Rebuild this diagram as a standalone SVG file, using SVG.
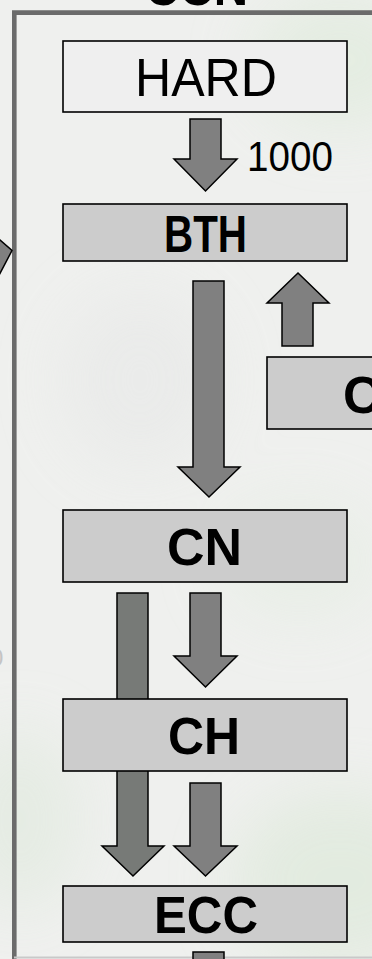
<svg xmlns="http://www.w3.org/2000/svg" width="372" height="959" viewBox="0 0 372 959">
<defs>
<style>
.box{stroke:#000;stroke-width:1.6}
.light{fill:#efefef}
.grey{fill:#cccccc}
.arr{fill:#808080;stroke:#000;stroke-width:1.5;stroke-linejoin:miter}
.lbl{font-family:"Liberation Sans",Arial,sans-serif;font-weight:bold;font-size:52px;fill:#000}
.reg{font-family:"Liberation Sans",Arial,sans-serif;font-size:53px;fill:#000}
</style>
<filter id="blur" x="-50%" y="-50%" width="200%" height="200%"><feGaussianBlur stdDeviation="30"/></filter>
</defs>
<g id="background">
<rect x="0" y="0" width="372" height="959" fill="#eff0ee"/>
<g filter="url(#blur)" opacity="0.8">
<ellipse cx="340" cy="60" rx="90" ry="70" fill="#e2ecdf"/>
<ellipse cx="340" cy="880" rx="110" ry="90" fill="#e0eadd"/>
<ellipse cx="20" cy="820" rx="60" ry="90" fill="#e3ebe1"/>
<ellipse cx="300" cy="560" rx="80" ry="60" fill="#e7eee5"/>
<ellipse cx="140" cy="380" rx="80" ry="90" fill="#e9eae9"/>
</g>
</g>
<g id="frame">
<path d="M14.3,959 V12.6 H372" fill="none" stroke="#6b6b6b" stroke-width="4.6"/>
<line x1="14" y1="957.5" x2="372" y2="957.5" stroke="#c9c9c9" stroke-width="2"/>
<text x="196.5" y="5" text-anchor="middle" class="lbl" textLength="103" lengthAdjust="spacingAndGlyphs">CCN</text>
<text x="-10" y="666" font-family="Liberation Sans,Arial,sans-serif" font-size="24" fill="#c4c4c4">0</text>
</g>
<g id="connectors">
<polygon class="arr" points="-4,236.5 12,250.5 -4,281"/>
<path id="arrow-cn-ecc" d="M117,593 H148 V846 H164 L133,876 L102,846 H117 Z" style="fill:#777a77;stroke:#000;stroke-width:1.5"/>
<path id="arrow-hard-bth" class="arr" d="M190,119 H221 V159 H237 L205.5,191 L174,159 H190 Z"/>
<path id="arrow-bth-cn" class="arr" d="M193,281 H224 V467 H240 L209,497 L178,467 H193 Z"/>
<path id="arrow-c-bth" class="arr" d="M282,346 V303 H267 L298,273 L329,303 H313 V346 Z"/>
<path id="arrow-cn-ch" class="arr" d="M190,593 H221 V656 H237 L205.5,687 L174,656 H190 Z"/>
<path id="arrow-ch-ecc" class="arr" d="M190,783 H221 V846 H237 L205.5,876 L174,846 H190 Z"/>
<rect id="arrow-ecc-out" class="arr" x="193" y="952" width="31" height="12"/>
<text x="247" y="171" font-family="Liberation Sans,Arial,sans-serif" font-size="43" fill="#000" textLength="86" lengthAdjust="spacingAndGlyphs">1000</text>
</g>
<g id="node-hard">
<rect class="box light" x="63" y="41" width="284" height="71"/>
<text x="206" y="96" text-anchor="middle" class="reg" textLength="142" lengthAdjust="spacingAndGlyphs">HARD</text>
</g>
<g id="node-bth">
<rect class="box grey" x="63" y="204" width="284" height="57"/>
<text x="205.5" y="252" text-anchor="middle" class="lbl" textLength="83" lengthAdjust="spacingAndGlyphs">BTH</text>
</g>
<g id="node-c">
<rect class="box grey" x="267" y="357" width="120" height="72"/>
<text x="343" y="413" class="lbl">C</text>
</g>
<g id="node-cn">
<rect class="box grey" x="63" y="510" width="284" height="72"/>
<text x="204.5" y="565" text-anchor="middle" class="lbl" textLength="75" lengthAdjust="spacingAndGlyphs">CN</text>
</g>
<g id="node-ch">
<rect class="box grey" x="63" y="699" width="284" height="72"/>
<text x="204" y="754" text-anchor="middle" class="lbl" textLength="72" lengthAdjust="spacingAndGlyphs">CH</text>
</g>
<g id="node-ecc">
<rect class="box grey" x="63" y="886" width="284" height="56"/>
<text x="206" y="933" text-anchor="middle" class="lbl" textLength="104" lengthAdjust="spacingAndGlyphs">ECC</text>
</g>
</svg>
